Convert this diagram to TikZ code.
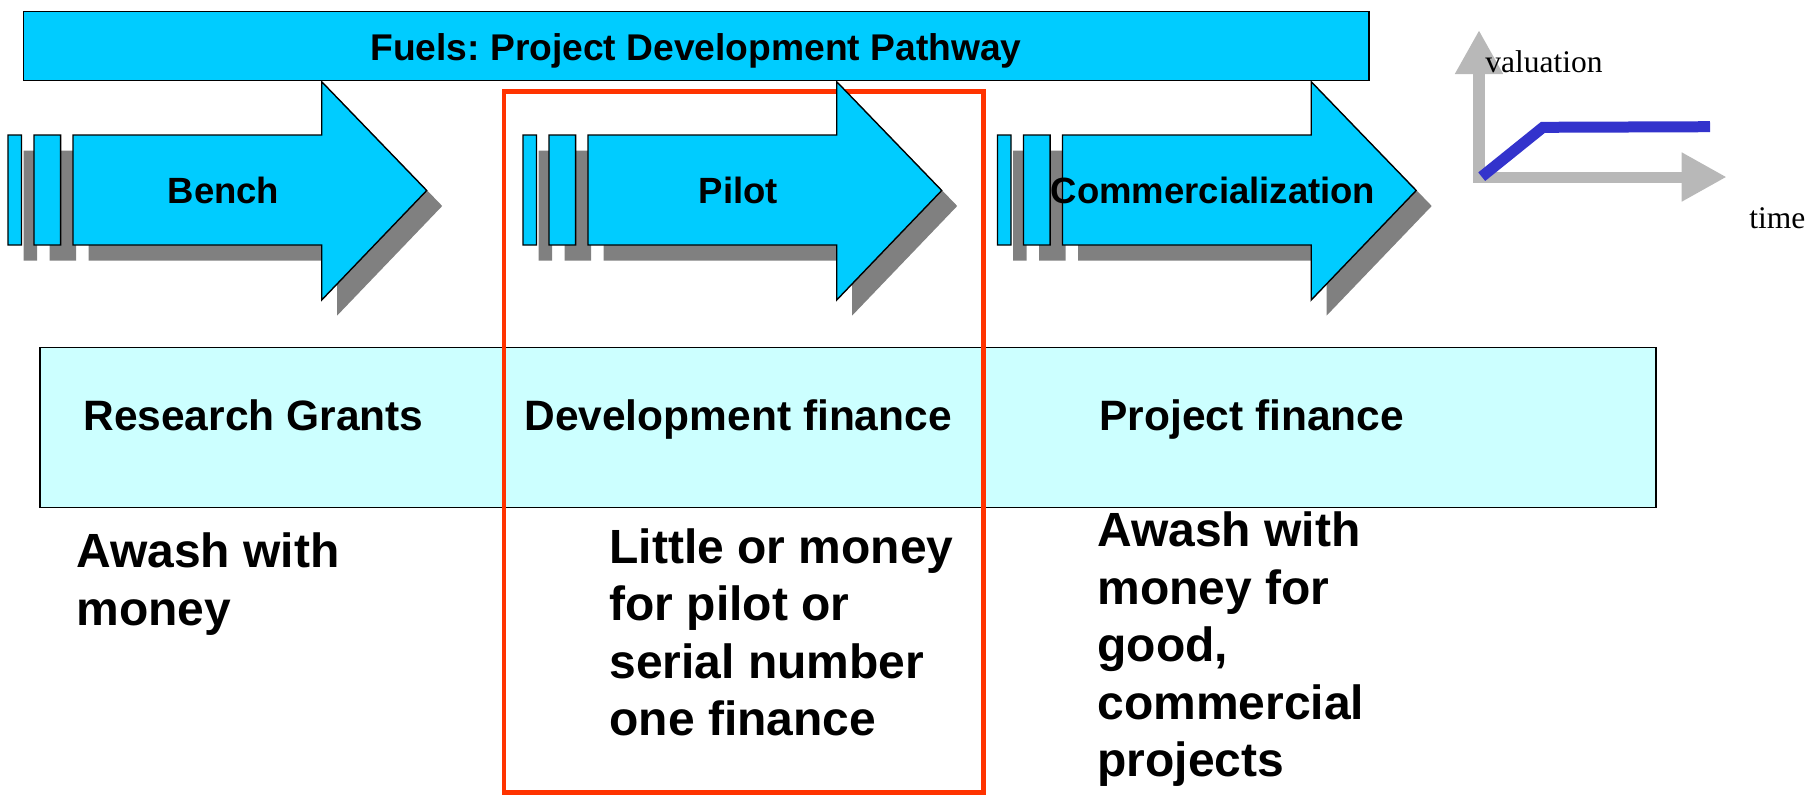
\documentclass[tikz,border=0pt]{standalone}
\usepackage{fontspec}
\setmainfont{Liberation Sans}
\newfontfamily\axisfont{Liberation Serif}
\usetikzlibrary{arrows.meta}
\frenchspacing
\definecolor{stagecyan}{RGB}{0,204,255}
\definecolor{stageshade}{RGB}{128,128,128}
\definecolor{financecyan}{RGB}{204,255,255}
\definecolor{pilotred}{RGB}{255,51,0}
\definecolor{axisgray}{RGB}{184,184,184}
\definecolor{valueblue}{RGB}{51,51,204}
\newcommand{\xstage}[2]{%
    \path[#2] (#1,135) rectangle (#1+13.5,245)
        (#1+26,135) rectangle (#1+52.6,245)
        (#1+65,135) -- (#1+313.7,135) -- (#1+313.7,81.7) -- (#1+418.7,190.5)
        -- (#1+313.7,300) -- (#1+313.7,245) -- (#1+65,245) -- cycle;
}

\begin{document}
\begin{tikzpicture}[x=0.5pt, y=-0.5pt,
    stagebody/.style={fill=stagecyan, draw=black, line width=0.7pt},
    stageshadow/.style={fill=stageshade, shift={(15.5,15.5)}},
    stagelabel/.style={font=\fontsize{18.25}{22}\selectfont\bfseries, anchor=base, inner sep=0pt},
    titlelabel/.style={font=\fontsize{18.6}{22}\selectfont\bfseries, anchor=base, inner sep=0pt},
    financelabel/.style={font=\fontsize{21.25}{25}\selectfont\bfseries, anchor=base west, inner sep=0pt},
    notelabel/.style={font=\fontsize{24}{28.75}\selectfont\bfseries, anchor=base west, inner sep=0pt, align=left},
    axislabel/.style={font=\fontsize{15.75}{19}\selectfont\axisfont, anchor=base west, inner sep=0pt}]

    \useasboundingbox (0,0) rectangle (1806,794);

    % ---------------- finance band ----------------
    \draw[fill=financecyan, line width=0.8pt] (39.7,347.5) rectangle (1656,507.5);
    \draw[pilotred, line width=2.25pt] (504,91.5) rectangle (983.5,792.5);

    % ---------------- stages ----------------
    \foreach \sx in {8,523,997.5}{
        \xstage{\sx}{stageshadow}
    }
    \foreach \sx/\sname/\stext in {8/bench/Bench, 523/pilot/Pilot, 997.5/commercial/Commercialization}{
        \xstage{\sx}{stagebody}
        \node[stagelabel] (\sname) at (\sx+215.5,203.3) {\stext};
    }

    % title bar
    \draw[fill=stagecyan, line width=0.75pt] (23.5,11.7) rectangle (1369,80.7);
    \node[titlelabel] (pathway) at (696,60) {Fuels: Project Development Pathway};

    % ---------------- finance labels ----------------
    \node[financelabel] (grants) at (83,430) {Research Grants};
    \node[financelabel] (devfinance) at (524,430) {Development finance};
    \node[financelabel] (projfinance) at (1099,430) {Project finance};

    % notes (base = last line)
    \node[notelabel] (benchnote) at (76,625) {Awash with\\money};
    \node[notelabel] (pilotnote) at (609,735.5) {Little or money\\for pilot or\\serial number\\one finance};
    \node[notelabel] (commnote) at (1097,776.7) {Awash with\\money for\\good,\\commercial\\projects};

    % ---------------- valuation sketch ----------------
    \draw[axisgray, line width=5.8pt, -{Triangle[length=22pt, width=22.5pt]}] (1479,182.7) -- (1479,30);
    \draw[axisgray, line width=5.5pt, -{Triangle[length=22.5pt, width=23pt]}] (1473,177) -- (1726.7,177);
    \draw[valueblue, line width=5.5pt] (1481.7,176.7) -- (1543,127.3) -- (1710,126.7);
    \node[axislabel] (valuation) at (1485,72.7) {valuation};
    \node[axislabel] (time) at (1749,228.3) {time};

\end{tikzpicture}
\end{document}
